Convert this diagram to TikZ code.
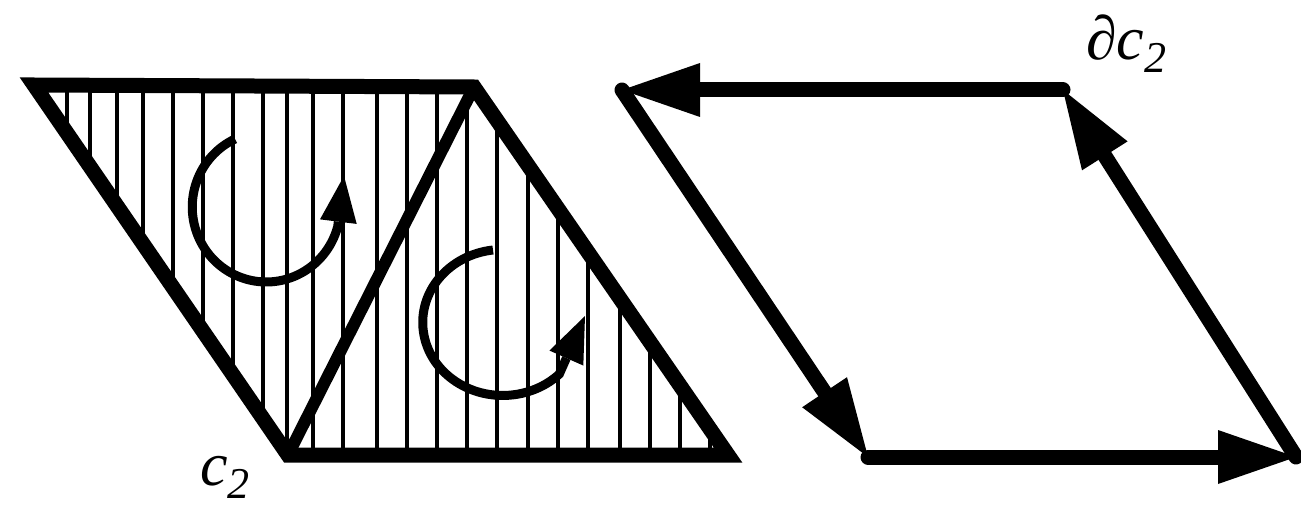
\documentclass[tikz,border=0pt]{standalone}
\usepackage{fontspec}
\setmainfont{Liberation Serif}
\usetikzlibrary{arrows.meta}
\newcommand\lowsub[1]{\raisebox{-13pt}{\fontsize{44}{44}\selectfont #1}}
\begin{document}
\begin{tikzpicture}[x=1pt,y=-1pt,
  frame/.style={line width=15pt, line join=miter},
  hatch/.style={line width=4pt},
  spin/.style={line width=9pt, -{Triangle[length=46pt,width=37pt,line width=0pt]}},
  edgearrow/.style={line width=15pt, line cap=round, -{Triangle[length=78pt,width=54pt,line width=0pt]}},
  lab/.style={inner sep=0pt, anchor=base west, font=\fontsize{62}{62}\selectfont}]
\useasboundingbox (0,0) rectangle (1301,513);
% left parallelogram
\coordinate (A) at (34,85);
\coordinate (B) at (474,87);
\coordinate (C) at (728,455);
\coordinate (D) at (288,455);
\begin{scope}
  \clip (A)--(B)--(C)--(D)--cycle;
  \foreach \x in {67,90,117,143,173,203,233,263,287,313,343,377,407,437,467,497,528,558,588,620,650,680,710}
    \draw[hatch] (\x,60)--(\x,470);
\end{scope}
\draw[frame] (A)--(B)--(C)--(D)--cycle;
\draw[line width=12pt] (D)--(B);
\coordinate (s1) at (235,139);
\coordinate (t1) at (344,176);
\draw[spin] (s1) arc[start angle=245,end angle=15,x radius=74,y radius=75] -- (t1);
\coordinate (s2) at (493,250);
\coordinate (t2) at (585,316);
\draw[spin] (s2) arc[start angle=263,end angle=45,x radius=80,y radius=73] -- (t2);
\node[lab] (c2) at (200,485) {\itshape c\lowsub{2}};
% right parallelogram (boundary)
\coordinate (P) at (622,90);
\coordinate (Q) at (1063,90);
\coordinate (R) at (1296,457);
\coordinate (S) at (868,457);
\draw[edgearrow] (Q)--(P);
\draw[edgearrow] (P)--(S);
\draw[edgearrow] (S)--(R);
\draw[edgearrow] (R)--(Q);
\node[lab] (dc2) at (1086,60) {∂\itshape c\lowsub{2}};
\end{tikzpicture}
\end{document}
